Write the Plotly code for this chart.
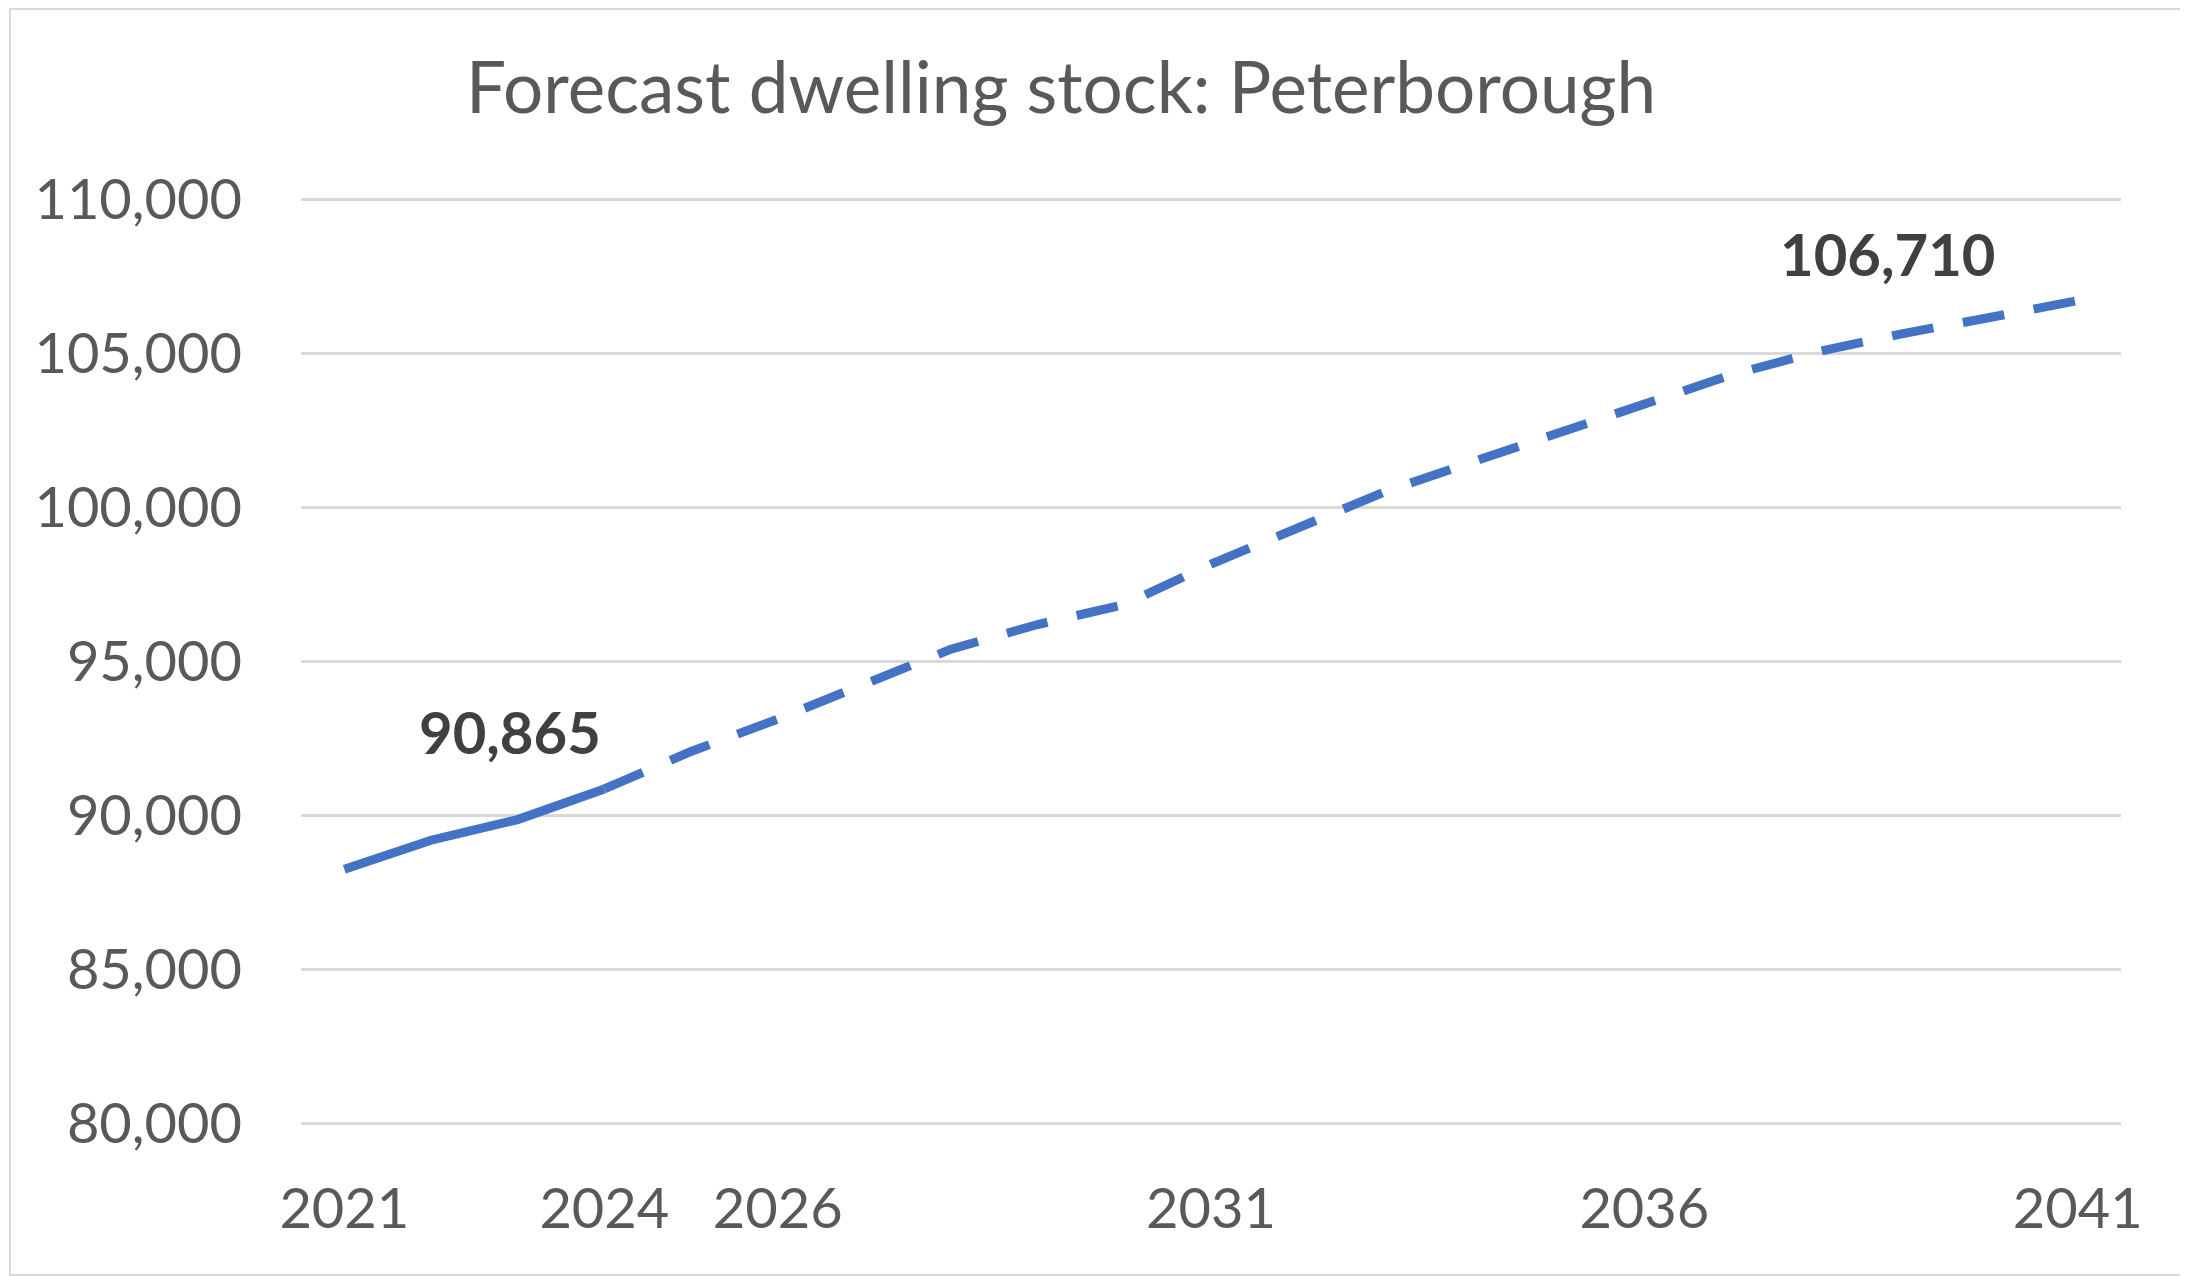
import plotly.graph_objects as go

years = list(range(2021, 2042))
dwellings = [88260, 89200, 89870, 90865, 92080, 93130, 94300, 95400, 96200, 96850,
             98160, 99330, 100500, 101460, 102400, 103370, 104300, 105050, 105650,
             106170, 106710]
year_ticks = [2021, 2024, 2026, 2031, 2036, 2041]
y_ticks = [80000, 85000, 90000, 95000, 100000, 105000, 110000]
title = "Forecast dwelling stock: Peterborough"
last_actual = 2024

split = years.index(last_actual)

fig = go.Figure()
# observed part, solid
fig.add_trace(go.Scatter(
    x=years[:split + 1], y=dwellings[:split + 1],
    mode="lines",
    line=dict(color="#4472C4", width=9),
    showlegend=False
))
# forecast part, dashed
fig.add_trace(go.Scatter(
    x=years[split:], y=dwellings[split:],
    mode="lines",
    line=dict(color="#4472C4", width=9, dash="42px,30px"),
    showlegend=False
))

font_name = "Lato"
fig.add_annotation(
    x=years[split], y=dwellings[split],
    text="{:,}".format(dwellings[split]),
    showarrow=False, xshift=-94, yshift=57,
    font=dict(family=font_name, size=58, color="#404040", weight="bold")
)
fig.add_annotation(
    x=years[-1], y=dwellings[-1],
    text="{:,}".format(dwellings[-1]),
    showarrow=False, xshift=-190, yshift=47,
    font=dict(family=font_name, size=58, color="#404040", weight="bold")
)

# light frame round the chart
fig.add_shape(type="rect", xref="paper", yref="paper",
              x0=-291 / 1820, x1=1 + 65 / 1820, y0=-150 / 927, y1=1 + 189 / 927,
              line=dict(color="#D9D9D9", width=2), layer="below")

fig.update_layout(
    width=2180, height=1268,
    margin=dict(l=293, r=67, t=190, b=151),
    paper_bgcolor="white", plot_bgcolor="white",
    title=dict(text=title, x=1053 / 2180, xanchor="center", y=1 - 80 / 1268, yanchor="middle",
               font=dict(family=font_name, size=71, color="#595959")),
    font=dict(family=font_name, color="#595959"),
)
fig.update_xaxes(
    range=[2020.5, 2041.5],
    tickvals=year_ticks, ticktext=[str(v) for v in year_ticks],
    tickfont=dict(family=font_name, size=56, color="#595959"),
    showgrid=False, zeroline=False, showline=False,
    ticks="", ticklabelstandoff=46
)
fig.update_yaxes(
    range=[79960, 110040],
    tickvals=y_ticks, ticktext=["{:,}".format(v) for v in y_ticks],
    tickfont=dict(family=font_name, size=56, color="#595959"),
    showgrid=True, gridcolor="#D9D9D9", gridwidth=3,
    zeroline=False, showline=False,
    ticks="", ticklabelstandoff=58
)

fig.write_html("out.html")
